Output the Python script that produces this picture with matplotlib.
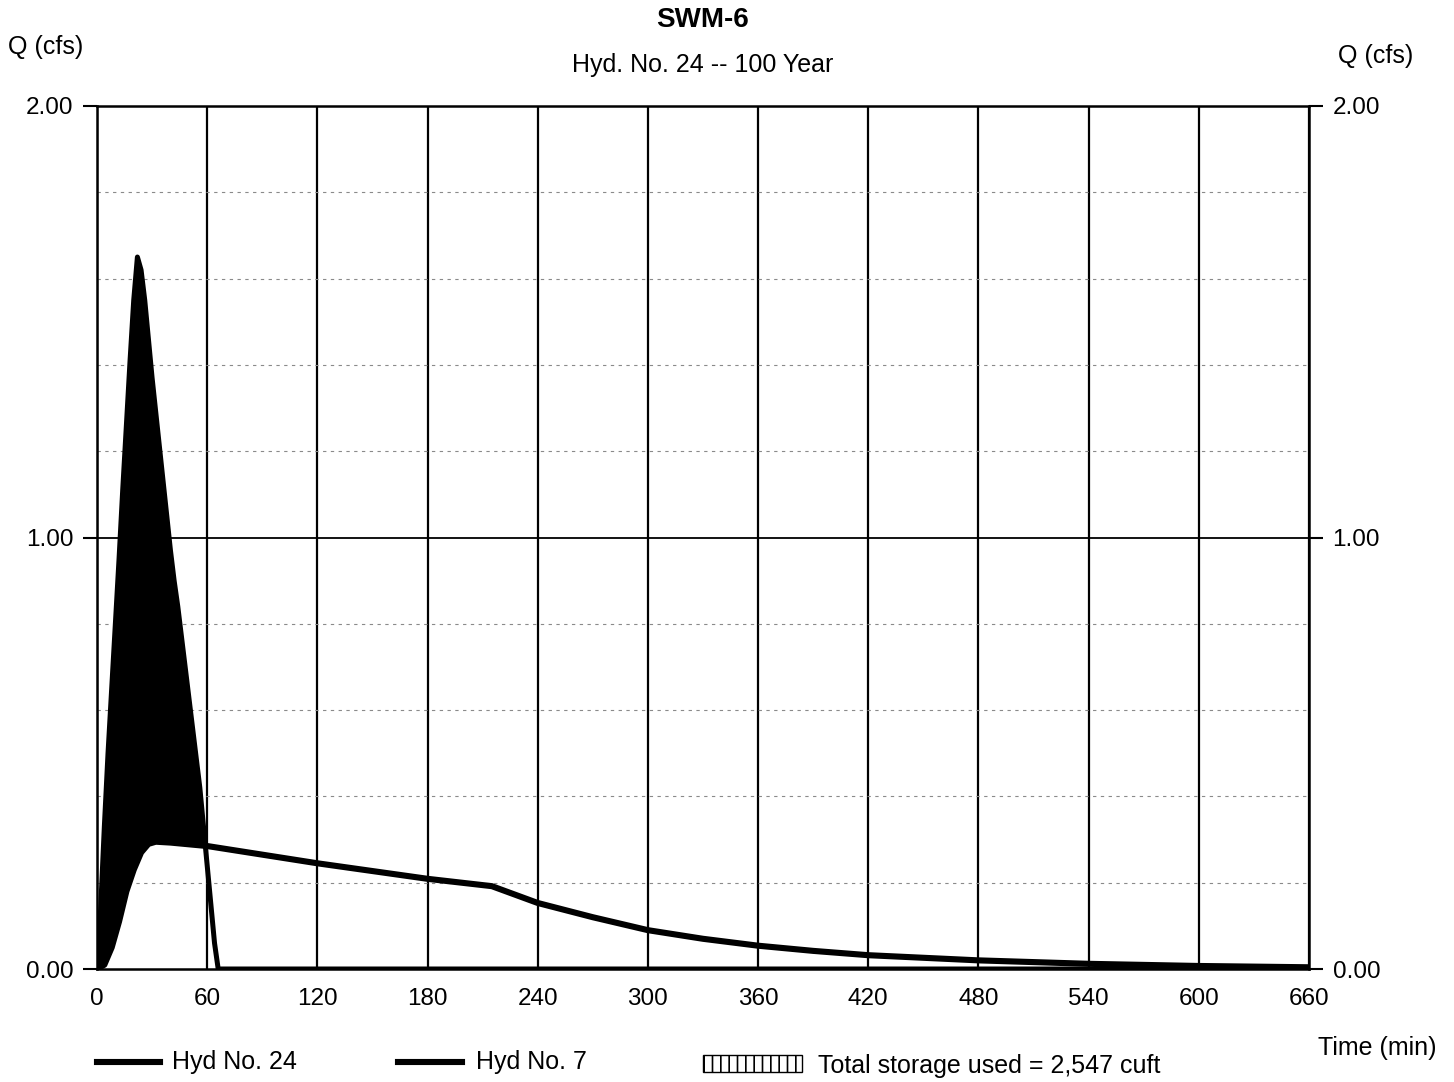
import numpy as np
import matplotlib
matplotlib.use("Agg")
import matplotlib.pyplot as plt
from matplotlib.lines import Line2D
from matplotlib.patches import Rectangle

plt.rcParams['font.family'] = ['Liberation Sans', 'DejaVu Sans']
plt.rcParams['hatch.linewidth'] = 1.2

# Inflow hydrograph (Hyd No. 24), time in minutes, flow in cfs
t_in = [0, 2, 4, 6, 8, 10, 12, 14, 16, 18, 20, 22, 24, 26, 28, 30, 32, 34, 36,
        38, 40, 42, 44, 46, 48, 50, 52, 54, 56, 58, 60, 62, 64, 66, 660]
q_in = [0.00, 0.14, 0.33, 0.50, 0.65, 0.80, 0.95, 1.11, 1.26, 1.41, 1.55, 1.65,
        1.62, 1.55, 1.46, 1.37, 1.29, 1.21, 1.13, 1.05, 0.97, 0.90, 0.84, 0.77,
        0.70, 0.63, 0.56, 0.49, 0.42, 0.33, 0.24, 0.15, 0.06, 0.00, 0.00]

# Routed outflow (Hyd No. 7)
t_out = [0, 4, 8, 12, 16, 20, 24, 28, 32, 40, 60, 120, 180, 215, 240, 270,
         300, 330, 360, 390, 420, 480, 540, 600, 660]
q_out = [0.00, 0.01, 0.05, 0.11, 0.18, 0.23, 0.27, 0.29, 0.295, 0.293, 0.285,
         0.245, 0.209, 0.192, 0.153, 0.120, 0.090, 0.070, 0.054, 0.042, 0.032,
         0.020, 0.012, 0.007, 0.004]

x_ticks = [0, 60, 120, 180, 240, 300, 360, 420, 480, 540, 600, 660]
y_ticks = [0.0, 1.0, 2.0]
y_minor = [0.2, 0.4, 0.6, 0.8, 1.2, 1.4, 1.6, 1.8]

W, H = 1454, 1082
fig = plt.figure(figsize=(W / 100, H / 100), dpi=100)


def fx(x):
    return x / W


def fy(y):
    return 1 - y / H


FS = 18
left, right, top, bottom = 97, 1309, 106, 969
ax = fig.add_axes([fx(left), fy(bottom), (right - left) / W, (bottom - top) / H])
ax.set_xlim(0, 660)
ax.set_ylim(0, 2.0)

# grid
for x in x_ticks:
    ax.axvline(x, color='black', lw=1.6, zorder=1)
ax.axhline(1.0, color='black', lw=1.3, zorder=1)
for y in y_minor:
    ax.axhline(y, color='#8a8a8a', lw=0.8, ls=(0, (3, 4)), zorder=1)

# storage volume between inflow and outflow
t_all = np.union1d(t_in, t_out)
qi = np.interp(t_all, t_in, q_in)
qo = np.interp(t_all, t_out, q_out)
ax.fill_between(t_all, qo, qi, where=qi >= qo, interpolate=True,
                facecolor='black', edgecolor='none', zorder=2)

ax.plot(t_in, q_in, color='black', lw=3.6, solid_joinstyle='round', zorder=3)
ax.plot(t_out, q_out, color='black', lw=4.4, solid_joinstyle='round', zorder=3)

for s in ax.spines.values():
    s.set_linewidth(1.8)
    s.set_zorder(4)

ax.set_xticks(x_ticks)
ax.set_xticklabels([str(v) for v in x_ticks], fontsize=17.5)
ax.set_yticks(y_ticks)
ax.set_yticklabels([f"{v:.2f}" for v in y_ticks], fontsize=17.5)
ax.tick_params(axis='x', length=0, pad=14)
ax.tick_params(axis='y', direction='out', length=10, width=1.5, pad=7,
               right=True, labelright=True)

# titles and axis captions
fig.text(fx(703), fy(20), "SWM-6", ha='center', va='center',
         fontsize=20, fontweight='bold')
fig.text(fx(703), fy(65), "Hyd. No. 24 -- 100 Year", ha='center', va='center',
         fontsize=FS)
fig.text(fx(8), fy(47), "Q (cfs)", ha='left', va='center', fontsize=FS)
fig.text(fx(1413), fy(56), "Q (cfs)", ha='right', va='center', fontsize=FS)
fig.text(fx(1437), fy(1048), "Time (min)", ha='right', va='center', fontsize=FS)

# legend
yl = 1062
fig.add_artist(Line2D([fx(97), fx(160)], [fy(yl), fy(yl)], color='black',
                      lw=4.4, transform=fig.transFigure))
fig.text(fx(172), fy(yl), "Hyd No. 24", ha='left', va='center', fontsize=FS)
fig.add_artist(Line2D([fx(398), fx(462)], [fy(yl), fy(yl)], color='black',
                      lw=4.4, transform=fig.transFigure))
fig.text(fx(476), fy(yl), "Hyd No. 7", ha='left', va='center', fontsize=FS)
fig.add_artist(Rectangle((fx(703), fy(1072)), (802 - 703) / W, 17 / H,
                         transform=fig.transFigure, facecolor='white',
                         edgecolor='black', lw=1.0, hatch='||'))
fig.text(fx(818), fy(1066), "Total storage used = 2,547 cuft", ha='left',
         va='center', fontsize=FS)

fig.savefig("out.png", dpi=100)
